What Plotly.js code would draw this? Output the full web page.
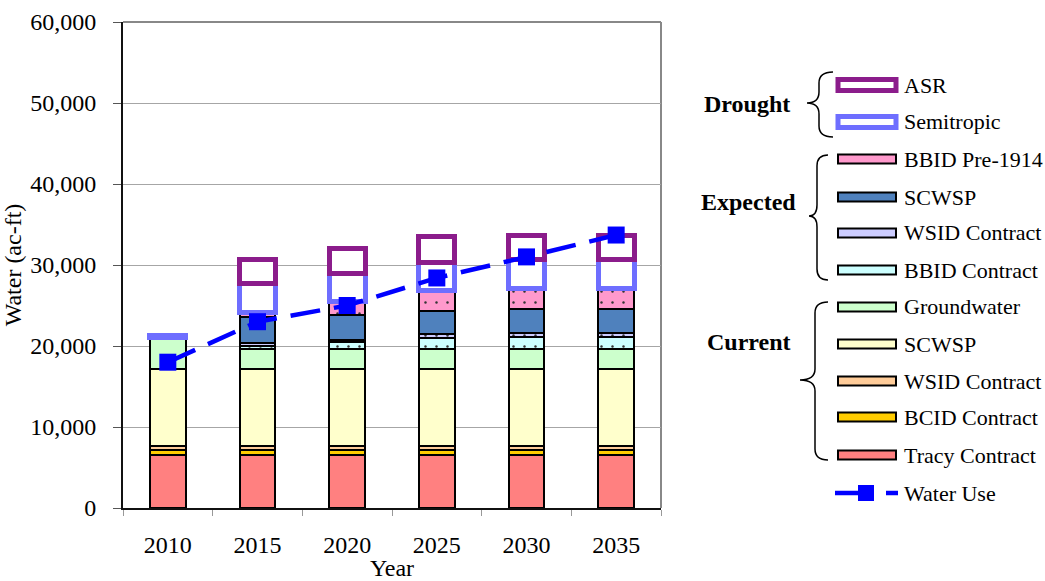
<!DOCTYPE html>
<html>
<head>
<meta charset="utf-8">
<script src="https://cdn.plot.ly/plotly-3.0.1.min.js"></script>
<style>
  html, body { margin: 0; padding: 0; background: #fff; }
  #chart { width: 1045px; height: 581px; }
</style>
</head>
<body>
<div id="chart"></div>
<script>
// ---------------- DATA ----------------
const years = ['2010', '2015', '2020', '2025', '2030', '2035'];
// Current supplies
const tracyContract       = [6500, 6500, 6500, 6500, 6500, 6500];
const bcidContract        = [650, 650, 650, 650, 650, 650];
const wsidContractCurrent = [500, 500, 500, 500, 500, 500];
const scwspCurrent        = [9450, 9450, 9450, 9450, 9450, 9450];
const groundwater         = [4000, 2500, 2500, 2500, 2500, 2500];
// Expected supplies (null = none in that year)
const bbidContract         = [null, 400, 900, 1350, 1550, 1550];
const wsidContractExpected = [null, 400, 300, 500, 450, 450];
const scwspExpected        = [null, 3200, 3000, 2900, 3000, 3000];
const bbidPre1914          = [null, 550, 1650, 2550, 2450, 2450];
// Drought supplies
const semitropic = [150, 3600, 3500, 3350, 3600, 3600];
const asr        = [null, 2900, 3050, 3250, 3000, 3000];
// Demand
const waterUse = [18000, 23000, 25000, 28400, 31000, 33700];

const yTicks = [0, 10000, 20000, 30000, 40000, 50000, 60000];

// ---------------- STYLE ----------------
const FONT = 'Liberation Serif, Times New Roman, serif';
const L = 123, T = 22, PW = 538, PH = 486, W = 1045, H = 581;
const px = x => (x - L) / PW;
const py = y => (T + PH - y) / PH;

function bar(name, vals, color, opts) {
  opts = opts || {};
  const m = {
    color: color,
    line: { color: opts.lineColor || '#000', width: opts.lineWidth || 2 }
  };
  if (opts.dots) {
    m.pattern = { shape: '.', bgcolor: color, fgcolor: '#333', size: 11, solidity: 0.04, fillmode: 'replace' };
  }
  return {
    type: 'bar', name: name, x: years, y: vals, width: 0.4,
    marker: m, showlegend: false, hoverinfo: 'skip'
  };
}

const traces = [
  bar('Tracy Contract', tracyContract, '#FF8080'),
  bar('BCID Contract', bcidContract, '#FFCC00'),
  bar('WSID Contract', wsidContractCurrent, '#FFCC99'),
  bar('SCWSP', scwspCurrent, '#FFFFCC'),
  bar('Groundwater', groundwater, '#CCFFCC'),
  bar('BBID Contract', bbidContract, '#CCFFFF', { dots: true }),
  bar('WSID Contract (expected)', wsidContractExpected, '#CCCCFF', { dots: true }),
  bar('SCWSP (expected)', scwspExpected, '#4F81BD'),
  bar('BBID Pre-1914', bbidPre1914, '#FF99CC', { dots: true }),
  bar('Semitropic', semitropic, '#FFFFFF', { lineColor: '#6E6EFF', lineWidth: 5 }),
  bar('ASR', asr, '#FFFFFF', { lineColor: '#8B1C8B', lineWidth: 5 }),
  {
    type: 'scatter', mode: 'lines+markers', name: 'Water Use',
    x: years, y: waterUse,
    line: { color: '#0000FF', width: 4.5, dash: '30px,14px' },
    marker: { symbol: 'square', size: 17, color: '#0000FF' },
    showlegend: false, hoverinfo: 'skip'
  }
];

// ---------------- CUSTOM LEGEND ----------------
const shapes = [];
const annotations = [];

// plot frame (top + right in grey)
shapes.push({ type: 'line', xref: 'paper', yref: 'paper', x0: 0, x1: 1, y0: 1, y1: 1,
  line: { color: '#888', width: 2 }, layer: 'between' });
shapes.push({ type: 'line', xref: 'paper', yref: 'paper', x0: 1, x1: 1, y0: 0, y1: 1,
  line: { color: '#888', width: 2 }, layer: 'between' });

const legendItems = [
  { label: 'ASR', y: 85, fill: '#FFFFFF', line: '#8B1C8B', lw: 5, h: 11 },
  { label: 'Semitropic', y: 122, fill: '#FFFFFF', line: '#6E6EFF', lw: 5, h: 11 },
  { label: 'BBID Pre-1914', y: 159, fill: '#FF99CC', line: '#000', lw: 2, h: 9 },
  { label: 'SCWSP', y: 197, fill: '#4F81BD', line: '#000', lw: 2, h: 9 },
  { label: 'WSID Contract', y: 233, fill: '#CCCCFF', line: '#000', lw: 2, h: 9 },
  { label: 'BBID Contract', y: 270, fill: '#CCFFFF', line: '#000', lw: 2, h: 9 },
  { label: 'Groundwater', y: 307, fill: '#CCFFCC', line: '#000', lw: 2, h: 9 },
  { label: 'SCWSP', y: 344, fill: '#FFFFCC', line: '#000', lw: 2, h: 9 },
  { label: 'WSID Contract', y: 381, fill: '#FFCC99', line: '#000', lw: 2, h: 9 },
  { label: 'BCID Contract', y: 417, fill: '#FFCC00', line: '#000', lw: 2, h: 9 },
  { label: 'Tracy Contract', y: 455, fill: '#FF8080', line: '#000', lw: 2, h: 9 }
];
legendItems.forEach(it => {
  shapes.push({ type: 'rect', xref: 'paper', yref: 'paper',
    x0: px(838), x1: px(896), y0: py(it.y + it.h / 2), y1: py(it.y - it.h / 2),
    fillcolor: it.fill, line: { color: it.line, width: it.lw } });
  annotations.push({ xref: 'paper', yref: 'paper', x: px(902), y: py(it.y),
    xanchor: 'left', yanchor: 'middle', showarrow: false, text: it.label,
    font: { family: FONT, size: 22, color: '#000' } });
});
// Water Use legend symbol
const wuY = 493;
shapes.push({ type: 'line', xref: 'paper', yref: 'paper', x0: px(835), x1: px(866), y0: py(wuY), y1: py(wuY),
  line: { color: '#0000FF', width: 4.5 } });
shapes.push({ type: 'rect', xref: 'paper', yref: 'paper', x0: px(858), x1: px(874), y0: py(wuY + 8), y1: py(wuY - 8),
  fillcolor: '#0000FF', line: { color: '#0000FF', width: 0 } });
shapes.push({ type: 'line', xref: 'paper', yref: 'paper', x0: px(886), x1: px(898), y0: py(wuY), y1: py(wuY),
  line: { color: '#0000FF', width: 4.5 } });
annotations.push({ xref: 'paper', yref: 'paper', x: px(902), y: py(wuY),
  xanchor: 'left', yanchor: 'middle', showarrow: false, text: 'Water Use',
  font: { family: FONT, size: 22, color: '#000' } });

// group labels
[['Drought', 747, 104], ['Expected', 748, 202], ['Current', 749, 342]].forEach(g => {
  annotations.push({ xref: 'paper', yref: 'paper', x: px(g[1]), y: py(g[2]),
    xanchor: 'center', yanchor: 'middle', showarrow: false, text: '<b>' + g[0] + '</b>',
    font: { family: FONT, size: 24, color: '#000' } });
});

// curly braces
function brace(x1, xm, x0, ytop, ymid, ybot) {
  const r = 11;
  const P = (x, y) => px(x).toFixed(5) + ',' + py(y).toFixed(5);
  return 'M' + P(x1, ytop) +
    ' Q' + P(xm, ytop) + ' ' + P(xm, ytop + r) +
    ' L' + P(xm, ymid - r) +
    ' Q' + P(xm, ymid) + ' ' + P(x0, ymid) +
    ' Q' + P(xm, ymid) + ' ' + P(xm, ymid + r) +
    ' L' + P(xm, ybot - r) +
    ' Q' + P(xm, ybot) + ' ' + P(x1, ybot);
}
[[833, 819, 807, 72, 103, 137], [828, 817, 809, 155, 216, 280], [828, 815, 800, 302, 380, 460]].forEach(b => {
  shapes.push({ type: 'path', xref: 'paper', yref: 'paper', path: brace.apply(null, b),
    line: { color: '#000', width: 1.5 } });
});

// ---------------- LAYOUT ----------------
const layout = {
  width: W, height: H,
  margin: { l: L, r: W - L - PW, t: T, b: H - T - PH, pad: 0 },
  paper_bgcolor: '#fff', plot_bgcolor: '#fff',
  barmode: 'stack',
  showlegend: false,
  font: { family: FONT, size: 24, color: '#000' },
  xaxis: {
    type: 'category', categoryorder: 'array', categoryarray: years,
    tickson: 'boundaries', ticks: 'outside', ticklen: 6, tickcolor: '#999', tickwidth: 1,
    showline: true, linecolor: '#111', linewidth: 2,
    showgrid: false, zeroline: false,
    ticklabelstandoff: 14,
    tickfont: { family: FONT, size: 24, color: '#000' },
    title: { text: 'Year', standoff: 0, font: { family: FONT, size: 24, color: '#000' } },
    automargin: false
  },
  yaxis: {
    range: [0, 60000], tickvals: yTicks, tickformat: ',d',
    ticks: 'outside', ticklen: 8, tickcolor: '#555', tickwidth: 1,
    showline: true, linecolor: '#111', linewidth: 2,
    showgrid: true, gridcolor: '#A6A6A6', gridwidth: 1,
    zeroline: false,
    ticklabelstandoff: 12,
    tickfont: { family: FONT, size: 24, color: '#000' },
    title: { text: 'Water (ac-ft)', standoff: 8, font: { family: FONT, size: 24, color: '#000' } },
    automargin: false
  },
  shapes: shapes,
  annotations: annotations
};

Plotly.newPlot('chart', traces, layout, { displayModeBar: false, staticPlot: true });
</script>
</body>
</html>
